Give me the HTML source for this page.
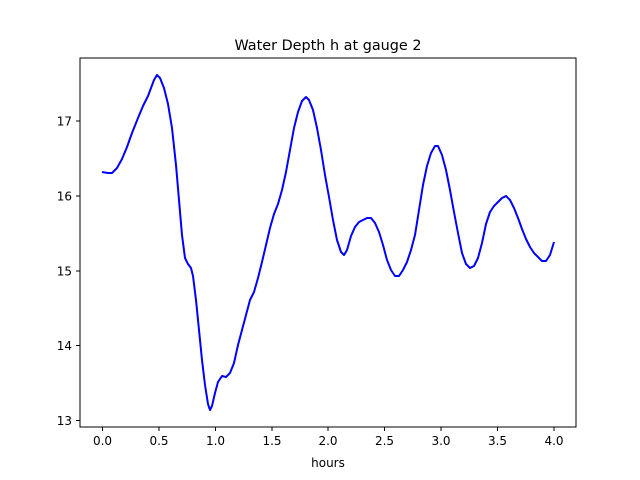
<!DOCTYPE html>
<html><head><style>body{margin:0;background:#fff}svg{display:block}text{font-family:"DejaVu Sans","Liberation Sans",sans-serif;fill:#000}</style></head><body>
<svg width="640" height="480" viewBox="0 0 640 480">
<rect width="640" height="480" fill="#fff"/>
<text x="328" y="50" font-size="14.4" text-anchor="middle">Water Depth h at gauge 2</text>
<polyline fill="none" stroke="#0000ff" stroke-width="2" stroke-linejoin="round" points="102,172 108,173 112,173 117,168 122,159 127,147 132,133 138,118 143,106 148,96 151,88 154,80 157,75 160,78 164,88 168,104 172,128 176,165 179,200 182,235 185,258 188,264 191,268 193,276 196,300 199,330 202,360 205,385 208,404 210,410 212,406 215,393 218,382 222,376 226,377 230,373 234,363 238,345 242,330 246,315 250,300 254,292 258,278 262,262 266,245 270,228 274,214 278,204 282,190 286,172 290,150 294,128 298,112 302,101 306,97 309,100 313,110 317,128 321,150 325,175 329,197 333,220 337,240 341,252 344,255 347,250 351,236 355,227 359,222 363,220 367,218 371,218 375,223 379,232 383,245 387,260 391,270 395,276 399,276 403,270 407,262 411,250 415,235 419,210 423,185 427,166 431,153 435,146 438,146 442,155 446,170 450,190 454,212 458,233 462,253 466,264 470,268 474,266 478,258 482,243 486,224 490,212 494,206 498,202 502,198 506,196 510,200 514,208 518,218 522,229 526,239 530,247 534,253 538,257 542,261 546,261 550,255 554,242"/>
<rect x="80" y="58" width="496" height="369" fill="none" stroke="#000" stroke-width="1"/>
<g stroke="#000" stroke-width="1">
<line x1="102.5" y1="427" x2="102.5" y2="431"/><line x1="159" y1="427" x2="159" y2="431"/><line x1="215.5" y1="427" x2="215.5" y2="431"/><line x1="272" y1="427" x2="272" y2="431"/><line x1="328" y1="427" x2="328" y2="431"/><line x1="384.5" y1="427" x2="384.5" y2="431"/><line x1="441" y1="427" x2="441" y2="431"/><line x1="497.5" y1="427" x2="497.5" y2="431"/><line x1="554" y1="427" x2="554" y2="431"/>
<line x1="76" y1="121" x2="80" y2="121"/><line x1="76" y1="196" x2="80" y2="196"/><line x1="76" y1="271" x2="80" y2="271"/><line x1="76" y1="345.5" x2="80" y2="345.5"/><line x1="76" y1="420.5" x2="80" y2="420.5"/>
</g>
<g font-size="12" text-anchor="middle">
<text x="102.5" y="445">0.0</text><text x="159" y="445">0.5</text><text x="215.5" y="445">1.0</text><text x="272" y="445">1.5</text><text x="328" y="445">2.0</text><text x="384.5" y="445">2.5</text><text x="441" y="445">3.0</text><text x="497.5" y="445">3.5</text><text x="554" y="445">4.0</text>
<text x="328" y="467">hours</text>
</g>
<g font-size="12" text-anchor="end">
<text x="72" y="125.5">17</text><text x="72" y="200.5">16</text><text x="72" y="275.5">15</text><text x="72" y="350">14</text><text x="72" y="425">13</text>
</g>
</svg>
</body></html>
